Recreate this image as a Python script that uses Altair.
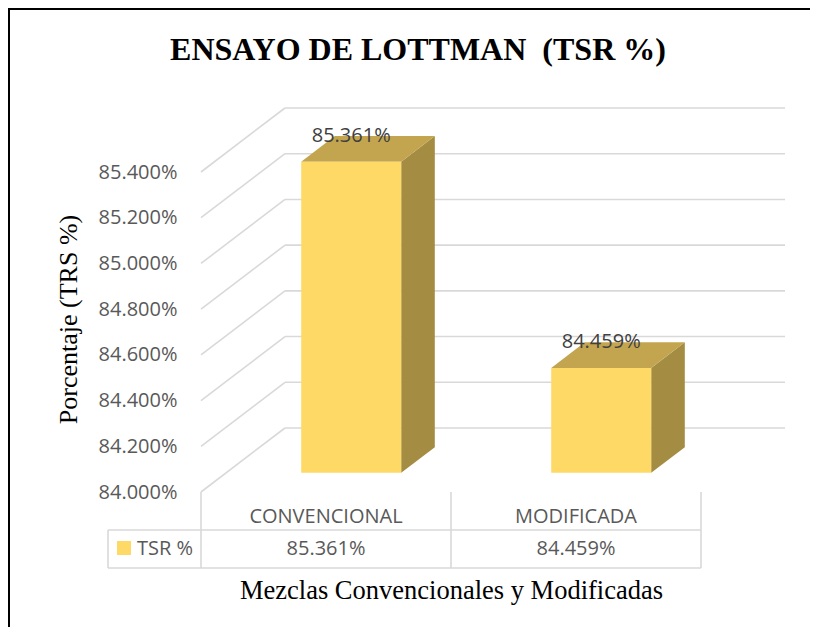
import altair as alt
import pandas as pd

# ---------------- data ----------------
TITLE = "ENSAYO DE LOTTMAN\u00a0 (TSR %)"
CATEGORIES = ["CONVENCIONAL", "MODIFICADA"]
TSR_VALUES = [85.361, 84.459]
SERIES_NAME = "TSR %"
Y_TICKS = [84.0, 84.2, 84.4, 84.6, 84.8, 85.0, 85.2, 85.4]

# ---------------- style / geometry ----------------
PLOT_W, PLOT_H = 500, 320
Y_MIN, Y_MAX = Y_TICKS[0], Y_TICKS[-1]
X_MIN, X_MAX = 0.0, float(len(CATEGORIES))
DEPTH_X = 84 / PLOT_W * (X_MAX - X_MIN)      # oblique depth (x, data units)
DEPTH_Y = 64 / PLOT_H * (Y_MAX - Y_MIN)      # oblique depth (y, data units)
BAR_W = 100 / PLOT_W * (X_MAX - X_MIN)
F0, F1 = 0.3, 0.7                            # bar front / back depth fraction

FRONT = "#FFD966"
TOP = "#C3A54F"
SIDE = "#A48C42"
GRID = "#D9D9D9"
LABEL_FONT = "Open Sans"

xs = alt.Scale(domain=[X_MIN, X_MAX], nice=False, zero=False)
ys = alt.Scale(domain=[Y_MIN, Y_MAX], nice=False, zero=False)

XAXIS = alt.Axis(title="Mezclas Convencionales y Modificadas", labels=False, ticks=False,
                 domain=False, grid=False, titleFont="Liberation Serif", titleFontSize=26.5,
                 titleFontWeight="normal", titleColor="black", titleY=98,
                 titleBaseline="middle")
YAXIS = alt.Axis(title="Porcentaje (TRS %)", values=Y_TICKS,
                 labelExpr="format(datum.value, '.3f') + '%'",
                 ticks=False, domain=False, grid=False, labelFont=LABEL_FONT,
                 labelFontSize=20, labelColor="#595959", labelPadding=24,
                 titleFont="Liberation Serif", titleFontSize=26, titleFontWeight="normal",
                 titleColor="black", titleX=-133, titleY=147, titleAngle=270,
                 titleAlign="center", titleBaseline="middle")


def X(f):
    return alt.X(f, type="quantitative", scale=xs, axis=XAXIS)


def Y(f):
    return alt.Y(f, type="quantitative", scale=ys, axis=YAXIS)


# ---------------- derived tables ----------------
grid_rows = []
for t in Y_TICKS:
    # back wall line
    grid_rows.append({"x": X_MIN + DEPTH_X, "x2": X_MAX + DEPTH_X, "y": t + DEPTH_Y, "y2": t + DEPTH_Y})
    # side wall diagonal
    grid_rows.append({"x": X_MIN, "x2": X_MIN + DEPTH_X, "y": t, "y2": t + DEPTH_Y})
grid_df = pd.DataFrame(grid_rows)

front_rows, top_rows, side_rows, lab_rows = [], [], [], []
for i, (cat, v) in enumerate(zip(CATEGORIES, TSR_VALUES)):
    c = i + 0.5
    front_rows.append({"cat": cat, "x": c - BAR_W / 2 + F0 * DEPTH_X, "x2": c + BAR_W / 2 + F0 * DEPTH_X,
                       "y": Y_MIN + F0 * DEPTH_Y, "y2": v + F0 * DEPTH_Y})
    for f in (F0, F1):
        top_rows.append({"cat": cat, "y": v + f * DEPTH_Y,
                         "x": c - BAR_W / 2 + f * DEPTH_X, "x2": c + BAR_W / 2 + f * DEPTH_X})
        side_rows.append({"cat": cat, "x": c + BAR_W / 2 + f * DEPTH_X,
                          "y": v + f * DEPTH_Y, "y2": Y_MIN + f * DEPTH_Y})
    lab_rows.append({"cat": cat, "c": c, "xl": c + F0 * DEPTH_X, "yl": v + F1 * DEPTH_Y,
                     "label": f"{v:.3f}%"})
front_df = pd.DataFrame(front_rows)
top_df = pd.DataFrame(top_rows)
side_df = pd.DataFrame(side_rows)
lab_df = pd.DataFrame(lab_rows)
bound_df = pd.DataFrame({"b": [X_MIN + k for k in range(len(CATEGORIES) + 1)]})
series_df = pd.DataFrame({"s": [SERIES_NAME]})
title_df = pd.DataFrame({"t": [TITLE]})

# ---------------- layers ----------------
grid = alt.Chart(grid_df).mark_rule(color=GRID, strokeWidth=1.6).encode(
    x=X("x"), x2="x2", y=Y("y"), y2="y2")

side = alt.Chart(side_df).mark_area(color=SIDE, orient="vertical", opacity=1).encode(
    x=X("x"), y=Y("y"), y2="y2", detail="cat:N")
top = alt.Chart(top_df).mark_area(color=TOP, orient="horizontal", opacity=1).encode(
    y=Y("y"), x=X("x"), x2="x2", detail="cat:N")
front = alt.Chart(front_df).mark_rect(color=FRONT).encode(
    x=X("x"), x2="x2", y=Y("y"), y2="y2")

labels = alt.Chart(lab_df).mark_text(font=LABEL_FONT, fontSize=20, color="#404040",
                                     baseline="middle", align="center").encode(
    x=X("xl"), y=Y("yl"), text="label:N")

# data table
tbl_v = alt.Chart(bound_df).mark_rule(color=GRID, strokeWidth=1.6).encode(
    x=X("b"), y=alt.value(320), y2=alt.value(396))
tbl_h1 = alt.Chart(series_df).mark_rule(color=GRID, strokeWidth=1.6).encode(
    x=alt.value(-93), x2=alt.value(PLOT_W), y=alt.value(358))
tbl_h2 = alt.Chart(series_df).mark_rule(color=GRID, strokeWidth=1.6).encode(
    x=alt.value(-93), x2=alt.value(PLOT_W), y=alt.value(396))
tbl_l = alt.Chart(series_df).mark_rule(color=GRID, strokeWidth=1.6).encode(
    x=alt.value(-93), y=alt.value(358), y2=alt.value(396))
tbl_head = alt.Chart(lab_df).mark_text(font=LABEL_FONT, fontSize=20, color="#595959",
                                       baseline="middle").encode(
    x=X("c"), y=alt.value(345), text="cat:N")
tbl_vals = alt.Chart(lab_df).mark_text(font=LABEL_FONT, fontSize=20, color="#595959",
                                       baseline="middle").encode(
    x=X("c"), y=alt.value(377), text="label:N")
swatch = alt.Chart(series_df).mark_square(color=FRONT, size=196, opacity=1, filled=True).encode(
    x=alt.value(-77), y=alt.value(376))
swatch_txt = alt.Chart(series_df).mark_text(font=LABEL_FONT, fontSize=20, color="#595959",
                                            baseline="middle", align="left").encode(
    x=alt.value(-64), y=alt.value(377), text="s:N")

# chart title
title = alt.Chart(title_df).mark_text(font="Liberation Serif", fontSize=32, fontWeight="bold",
                                      color="black", baseline="middle", align="center").encode(
    x=alt.value(217), y=alt.value(-122), text="t:N")

# outer frame (top & left edges visible)
frame_top = alt.Chart(series_df).mark_rule(color="black", strokeWidth=2).encode(
    x=alt.value(-193), x2=alt.value(609), y=alt.value(-163))
frame_left = alt.Chart(series_df).mark_rule(color="black", strokeWidth=2).encode(
    x=alt.value(-192), y=alt.value(-164), y2=alt.value(455))

chart = alt.layer(
    grid, side, top, front, labels,
    tbl_v, tbl_h1, tbl_h2, tbl_l, tbl_head, tbl_vals, swatch, swatch_txt,
    title, frame_top, frame_left,
).properties(
    width=PLOT_W, height=PLOT_H,
    autosize=alt.AutoSizeParams(type="none"),
    padding={"left": 193, "top": 164, "right": 109, "bottom": 135},
).configure(background="white").configure_view(strokeWidth=0, stroke=None)

chart.save("out.html", embed_options={"renderer": "svg", "actions": False})
